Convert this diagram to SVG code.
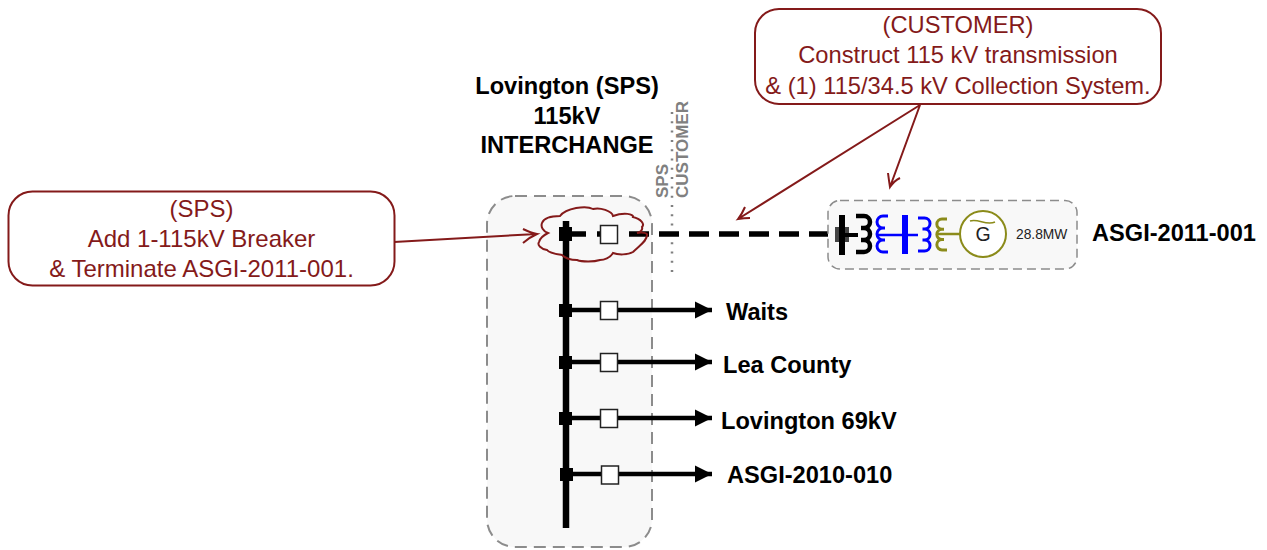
<svg xmlns="http://www.w3.org/2000/svg" width="1267" height="550" viewBox="0 0 1267 550">
<style>
text{font-family:"Liberation Sans",Arial,sans-serif}
.t{font-size:23.6px;font-weight:bold;fill:#000;text-anchor:middle}
.l{font-size:23.6px;font-weight:bold;fill:#000}
.n{font-size:24px;fill:#841a1a;text-anchor:middle}
.c{fill:#fff;stroke:#841a1a;stroke-width:2}
.r{fill:none;stroke:#841a1a;stroke-width:2}
.g{font-size:17px;font-weight:bold;fill:#808080}
.box{fill:#f8f8f8;stroke:#8c8c8c;stroke-width:2;stroke-dasharray:12 7}
.w{stroke:#000;stroke-width:4.5;fill:none}
.d{stroke:#000;stroke-width:5.5;fill:none}
.br{fill:#fff;stroke:#222;stroke-width:1.5}
.coil{fill:none;stroke-width:3}
</style>
<defs>
<marker id="a" markerUnits="userSpaceOnUse" markerWidth="18" markerHeight="18" refX="17" refY="9" orient="auto"><path d="M0 0.5L17 9L0 17.5Z" fill="#000"/></marker>
</defs>
<rect width="1267" height="550" fill="#fff"/>
<g id="interchange">
<rect class="box" x="487" y="196" width="165" height="351" rx="28"/>
<text class="t" x="567" y="93.500">Lovington (SPS)</text>
<text class="t" x="567" y="124">115kV</text>
<text class="t" x="567" y="153">INTERCHANGE</text>
</g>
<g id="boundary">
<line x1="672" y1="112" x2="672" y2="276" stroke="#808080" stroke-width="2.5" stroke-dasharray="2 7.3"/>
<text class="g" transform="translate(668 198) rotate(-90)">SPS</text>
<text class="g" transform="translate(688 198) rotate(-90)">CUSTOMER</text>
</g>
<g id="connectors">
<line x1="566" y1="221" x2="566" y2="528" stroke="#000" stroke-width="6.5"/>
<path class="d" d="M566 234H586M597 234H600"/>
<path class="d" d="M629 234H838" stroke-dasharray="20 10"/>
<path class="w" d="M566 310H712" marker-end="url(#a)"/>
<path class="w" d="M566 362H712" marker-end="url(#a)"/>
<path class="w" d="M566 418H712" marker-end="url(#a)"/>
<path class="w" d="M566 474H712" marker-end="url(#a)"/>
<path class="r" d="M394 242L537 234M523 229Q531 233 537 234Q530 237 523 243"/>
<path class="r" d="M920 105L738 219M745 207Q742 214 738 219Q744 218 750 218"/>
<path class="r" d="M920 105L890 187M888 173Q889 181 890 187Q894 181 900 178"/>
</g>
<g id="cloud">
<path class="r" d="M548 233C538 229 538 216 560 216C566 208 586 205 593 209C600 207 612 211 613 216C624 212 634 214 633 217C641 219 645 224 642 227C643 230 640 232 637 233C642 232 648 233 647 235C647 241 640 245 633 252C628 255 618 255 613 253C610 258 604 260 600 260C594 262 582 262 577 260C571 260 565 258 562 255C556 254 549 253 547 250C541 249 537 245 539 242C540 238 544 235 548 233Z"/>
</g>
<g id="busnodes" fill="#000">
<rect x="559" y="227" width="13" height="14"/><rect x="559" y="304" width="13" height="13"/><rect x="559" y="356" width="13" height="13"/><rect x="559" y="412" width="13" height="13"/><rect x="560" y="468" width="13" height="13"/>
</g>
<g id="breakers">
<rect class="br" x="600.500" y="225.500" width="17" height="18"/>
<rect class="br" x="600.500" y="301.500" width="17" height="18"/>
<rect class="br" x="600.500" y="353.500" width="17" height="18"/>
<rect class="br" x="600.500" y="409.500" width="17" height="18"/>
<rect class="br" x="601.500" y="466" width="17" height="18"/>
</g>
<g id="note-sps">
<rect class="c" x="8.500" y="191.500" width="386" height="94" rx="24"/>
<text class="n" x="201.500" y="217">(SPS)</text>
<text class="n" x="201.500" y="247">Add 1-115kV Breaker</text>
<text class="n" x="201.500" y="277">&amp; Terminate ASGI-2011-001.</text>
</g>
<g id="note-customer">
<rect class="c" x="755" y="9" width="406" height="95" rx="24"/>
<text class="n" style="font-size:23.7px" x="958" y="33">(CUSTOMER)</text>
<text class="n" style="font-size:23.7px" x="958" y="63">Construct 115 kV transmission</text>
<text class="n" style="font-size:23.7px" x="958" y="94">&amp; (1) 115/34.5 kV Collection System.</text>
</g>
<g id="asgi-2011-001">
<rect class="box" x="828" y="200.500" width="249" height="68.500" rx="12" style="stroke-width:1.5;stroke-dasharray:9 5"/>
<rect x="835" y="227" width="14" height="15" fill="#444"/>
<path d="M842 215V255" stroke="#000" stroke-width="6"/>
<path d="M842 235H858" stroke="#000" stroke-width="4"/>
<path class="coil" stroke="#000" style="stroke-width:4.5" d="M856 216h8a6 6 0 0 1 0 12h-3h3a6 6 0 0 1 0 12h-3h3a6 6 0 0 1 0 12h-8"/>
<path class="coil" stroke="#00f" d="M888 216h-5a6 6 0 0 0 0 12h2h-2a6 6 0 0 0 0 12h2h-2a6 6 0 0 0 0 12h5"/>
<path d="M878 235H918" stroke="#00f" stroke-width="2.500"/>
<path d="M905 215V254" stroke="#00f" stroke-width="6"/>
<path class="coil" stroke="#00f" d="M918 218h6.500a5.500 5.500 0 0 1 0 11h-2h2a5.500 5.500 0 0 1 0 11h-2h2a5.500 5.500 0 0 1 0 11h-6.500"/>
<path class="coil" stroke="#8b8b1a" d="M947 219h-5a5 5 0 0 0 0 10.300h2h-2a5 5 0 0 0 0 10.300h2h-2a5 5 0 0 0 0 10.300h5"/>
<path d="M938 234H960" stroke="#8b8b1a" stroke-width="2.500"/>
<circle cx="983" cy="234" r="23" fill="#fff" stroke="#8b8b1a" stroke-width="2"/>
<path d="M970 221C978 218 986 226 995 222" fill="none" stroke="#8b8b1a" stroke-width="1.500"/>
<text x="983" y="241" font-size="19.500" text-anchor="middle" fill="#222">G</text>
<text x="1016" y="239" font-size="13.800" fill="#222">28.8MW</text>
</g>
<g id="labels">
<text class="l" x="1092" y="241">ASGI-2011-001</text>
<text class="l" x="726" y="320">Waits</text>
<text class="l" x="723" y="373">Lea County</text>
<text class="l" x="721" y="429">Lovington 69kV</text>
<text class="l" x="727" y="483">ASGI-2010-010</text>
</g>
</svg>
